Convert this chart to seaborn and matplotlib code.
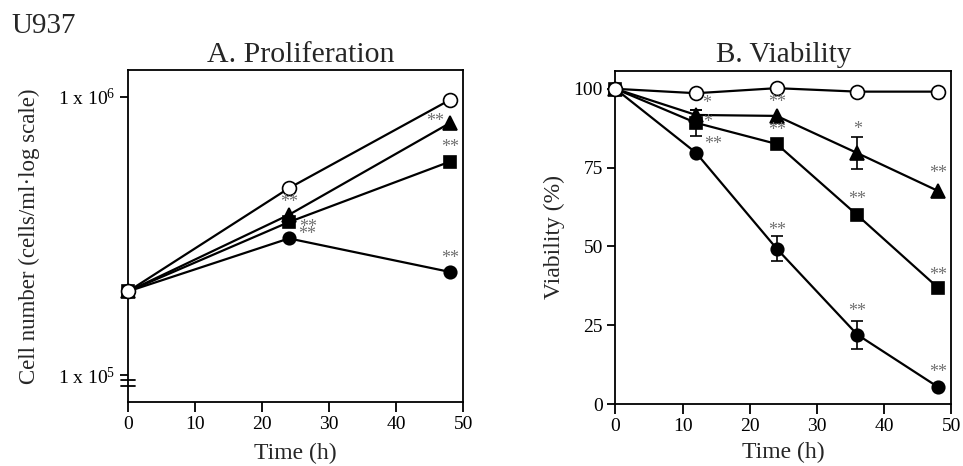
import numpy as np
import matplotlib
matplotlib.use("Agg")
import matplotlib.pyplot as plt
import seaborn as sns

sns.set_theme(style="ticks")
plt.rcParams.update({
    "font.family": ["Liberation Serif", "DejaVu Serif"],
    "mathtext.fontset": "custom",
    "mathtext.rm": "Liberation Serif",
    "mathtext.it": "Liberation Serif",
    "mathtext.default": "regular",
    "axes.edgecolor": "black",
    "axes.linewidth": 1.3,
    "xtick.color": "black",
    "ytick.color": "black",
    "xtick.major.width": 1.3,
    "ytick.major.width": 1.3,
    "xtick.major.size": 7,
    "ytick.major.size": 6,
    "xtick.labelsize": 14,
    "ytick.labelsize": 14,
})

# proliferation (cells/ml)
prolif_time = [0, 24, 48]
prolif_open = [2.0e5, 4.7e5, 9.75e5]
prolif_tri = [2.0e5, 3.77e5, 8.05e5]
prolif_sq = [2.0e5, 3.55e5, 5.85e5]
prolif_fill = [2.0e5, 3.1e5, 2.35e5]
prolif_stars_tri = ["", "**", "**"]
prolif_stars_sq = ["", "**", "**"]
prolif_stars_fill = ["", "**", "**"]

# viability (%)
via_time = [0, 12, 24, 36, 48]
via_open = [100, 98.6, 100.2, 99.1, 99.1]
via_tri = [100, 91.7, 91.4, 79.6, 67.6]
via_sq = [100, 89.2, 82.5, 59.9, 36.9]
via_fill = [100, 79.7, 49.3, 22.0, 5.4]
via_err_tri = [0, 1.6, 0, 5.0, 0]
via_err_sq = [0, 4.2, 0, 0, 0]
via_err_fill = [0, 0, 4.0, 4.4, 0]
via_stars_tri = ["", "*", "**", "*", "**"]
via_stars_sq = ["", "*", "**", "**", "**"]
via_stars_fill = ["", "**", "**", "**", "**"]

STAR_COLOR = "#707070"
PX = 0.72  # px -> points at dpi 100

fig = plt.figure(figsize=(9.63, 4.66), dpi=100)
ax1 = fig.add_axes([0.133, 0.137, 0.348, 0.713])
ax2 = fig.add_axes([0.639, 0.133, 0.349, 0.715])

styles = {
    "fill": dict(marker="o", markersize=9, markerfacecolor="black"),
    "sq": dict(marker="s", markersize=9, markerfacecolor="black"),
    "tri": dict(marker="^", markersize=10, markerfacecolor="black"),
    "open": dict(marker="o", markersize=10, markerfacecolor="white"),
}


def draw(ax, x, y, key):
    sns.lineplot(x=x, y=y, ax=ax, color="black", linewidth=1.6,
                 markeredgecolor="black", markeredgewidth=1.2,
                 zorder=3, **styles[key])


def stars(ax, x, y, labels, offsets):
    for xi, yi, lab, off in zip(x, y, labels, offsets):
        if lab:
            ax.annotate(lab, (xi, yi), xytext=(off[0] * PX, off[1] * PX),
                        textcoords="offset points", ha="center", va="center",
                        fontsize=13, color=STAR_COLOR, zorder=5)


# A. Proliferation
draw(ax1, prolif_time, prolif_fill, "fill")
draw(ax1, prolif_time, prolif_sq, "sq")
draw(ax1, prolif_time, prolif_tri, "tri")
draw(ax1, prolif_time, prolif_open, "open")
stars(ax1, prolif_time, prolif_tri, prolif_stars_tri, [(0, 0), (0, 12), (-15, 2)])
stars(ax1, prolif_time, prolif_sq, prolif_stars_sq, [(0, 0), (19, -5), (0, 14)])
stars(ax1, prolif_time, prolif_fill, prolif_stars_fill, [(0, 0), (18, 4), (0, 13)])

ax1.set_yscale("log")
ax1.set_ylim(10 ** 4.903, 10 ** 6.097)
ax1.set_xlim(0, 50)
ax1.set_xticks([0, 10, 20, 30, 40, 50])
ax1.set_yticks([1e5, 1e6])
ax1.set_yticklabels(["1 x 10$^5$", "1 x 10$^6$"])
ax1.yaxis.set_minor_locator(matplotlib.ticker.NullLocator())
ax1.set_xlabel("Time (h)", fontsize=17, labelpad=7)
ax1.set_ylabel("Cell number (cells/ml\u00b7log scale)", fontsize=16.5, labelpad=13)
ax1.set_title("A. Proliferation", fontsize=21.5, pad=6, x=0.515)
# axis break marks on the log axis
for yb in (10 ** 4.962, 10 ** 4.982):
    ax1.plot([-0.02, 0.02], [yb, yb], color="black", lw=1.3, clip_on=False,
             transform=ax1.get_yaxis_transform(), zorder=6)

# B. Viability
draw(ax2, via_time, via_fill, "fill")
draw(ax2, via_time, via_sq, "sq")
draw(ax2, via_time, via_tri, "tri")
draw(ax2, via_time, via_open, "open")
for vals, errs in ((via_tri, via_err_tri), (via_sq, via_err_sq), (via_fill, via_err_fill)):
    t = [a for a, e in zip(via_time, errs) if e > 0]
    v = [a for a, e in zip(vals, errs) if e > 0]
    e = [a for a in errs if a > 0]
    ax2.errorbar(t, v, yerr=e, fmt="none", ecolor="black", elinewidth=1.2,
                 capsize=4, capthick=1.2, zorder=2)
stars(ax2, via_time, via_tri, via_stars_tri, [(0, 0), (11, 11), (0, 13), (0, 24), (0, 17)])
stars(ax2, via_time, via_sq, via_stars_sq, [(0, 0), (12, 0), (0, 13), (0, 16), (0, 12)])
stars(ax2, via_time, via_fill, via_stars_fill, [(0, 0), (17, 8), (0, 18), (0, 23), (0, 14)])

ax2.set_xlim(0, 50)
ax2.set_ylim(0, 105.7)
ax2.set_xticks([0, 10, 20, 30, 40, 50])
ax2.set_yticks([0, 25, 50, 75, 100])
ax2.set_xlabel("Time (h)", fontsize=17, labelpad=5)
ax2.set_ylabel("Viability (%)", fontsize=17, labelpad=6)
ax2.set_title("B. Viability", fontsize=21, pad=6)

for ax in (ax1, ax2):
    for s in ax.spines.values():
        s.set_visible(True)
    ax.tick_params(direction="out", pad=3)
    for m in ax.get_children():
        if isinstance(m, matplotlib.lines.Line2D):
            m.set_clip_on(False)

fig.text(0.012, 0.945, "U937", fontsize=21, ha="left", va="center")

fig.savefig("out.png", dpi=100)
